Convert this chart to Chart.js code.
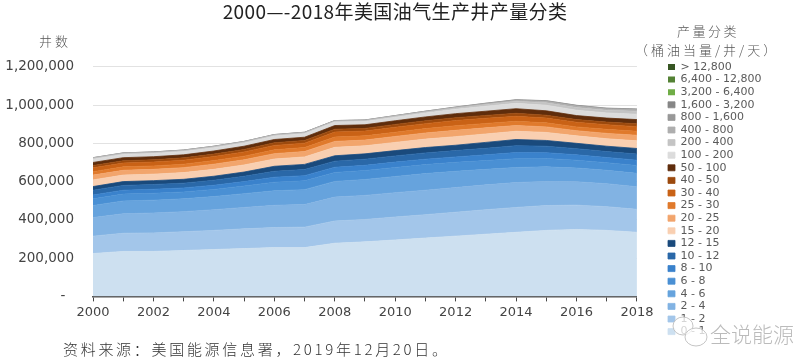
<!DOCTYPE html>
<html><head><meta charset="utf-8">
<style>html,body{margin:0;padding:0;background:#fff}#w{width:800px;height:363px;position:relative}canvas{filter:blur(.45px)}</style>
<script src="https://cdn.jsdelivr.net/npm/chart.js@4/dist/chart.umd.min.js"></script>
</head><body><div id="w"><canvas id="c" width="800" height="363"></canvas></div>
<script>
// wells, in thousands
const years=[2000,2001,2002,2003,2004,2005,2006,2007,2008,2009,2010,2011,2012,2013,2014,2015,2016,2017,2018];
const yTicks=[0,200,400,600,800,1000,1200];
const b0_1=[224,235,235,240,245,250,255,255,278,285,295,305,315,325,335,345,350,345,335];
const b1_2=[91,95,97,98,100,103,105,107,116,117,120,122,125,128,130,130,127,124,120];
const b2_4=[97,102,104,105,108,112,116,118,125,126,127,128,129,130,130,126,122,120,118];
const b4_6=[63,67,67,67,69,72,76,78,82,83,85,87,85,81,79,76,72,70,70];
const b6_8=[35,36,36,36,37,40,45,46,47,47,47,47,47,46,46,44,41,40,41];
const b8_10=[20,20,21,21,22,23,26,27,27,27,28,28,28,30,32,30,28,27,28];
const b10_12=[25,25,25,25,26,28,31,32,32,32,32,33,33,34,36,34,32,31,32];
const b12_15=[19,20,20,20,21,22,26,27,28,28,28,28,28,31,32,30,28,28,29];
const b15_20=[35,34,34,35,36,37,38,39,44,42,43,44,45,44,43,42,39,39,40];
const b20_25=[25,25,25,26,27,27,28,28,31,30,31,32,33,32,30,29,27,28,29];
const b25_30=[18,18,18,18,19,19,20,21,23,22,22,23,24,23,22,21,20,21,21];
const b30_40=[20,20,20,21,21,22,23,23,26,25,26,26,27,27,26,25,24,24,24];
const b40_50=[12,12,12,12,13,13,14,14,15,14,15,15,15,15,16,15,14,14,15];
const b50_100=[16,16,16,16,16,17,17,17,19,19,19,20,21,22,24,23,21,21,22];
const b100_200=[17,17,17,17,17,17,18,18,18,17,18,20,23,26,28,29,28,27,28];
const b200_400=[5,5,5,5,5,5,5,5,5,5,6,6,7,9,11,13,14,14,16];
const b400_800=[2,2,2,2,2,2,2,2,2,2,2,3,3,4,5,7,8,7,7];
const b800_1600=[1,1,1,1,1,1,1,1,1,1,1,1,1,2,2,3,3,3,3];
const b1600_3200=[0,0,0,0,0,0,0,0,0,0,0,0,1,1,1,1,1,1,2];
const b3200_6400=[0,0,0,0,0,0,0,0,0,0,0,0,0,0,0,0,0,0,0];
const b6400_12800=[0,0,0,0,0,0,0,0,0,0,0,0,0,0,0,0,0,0,0];
const bOver12800=[0,0,0,0,0,0,0,0,0,0,0,0,0,0,0,0,0,0,0];
const labels=['0 - 1','1 - 2','2 - 4','4 - 6','6 - 8','8 - 10','10 - 12','12 - 15','15 - 20','20 - 25','25 - 30','30 - 40','40 - 50','50 - 100','100 - 200','200 - 400','400 - 800','800 - 1,600','1,600 - 3,200','3,200 - 6,400','6,400 - 12,800','> 12,800'];
const series=[b0_1,b1_2,b2_4,b4_6,b6_8,b8_10,b10_12,b12_15,b15_20,b20_25,b25_30,b30_40,b40_50,b50_100,b100_200,b200_400,b400_800,b800_1600,b1600_3200,b3200_6400,b6400_12800,bOver12800];
const colors=['#cde0f0','#a3c6ea','#82b3e3','#66a3dd','#4a90d4','#3a82cc','#2a68a8','#1a4a7c','#f9cfb1','#f2a56c','#e07a2c','#c96216','#9c4a0e','#5f2d0c','#dcdcdc','#c4c4c4','#aeaeae','#989898','#868686','#70ad47','#548235','#375623'];
const txt='#444';
const CJK='"Noto Sans CJK SC"';
function spaced(ctx,s,x,y,sp){ctx.letterSpacing=sp+'px';ctx.fillText(s,x,y);ctx.letterSpacing='0px';}
const place={id:'place',afterLayout(ch){
  const l=ch.legend;const h=l.height,w=l.width;
  l.left=666.4;l.right=l.left+w;l.top=59.9;l.bottom=l.top+h;
  const t=ch.titleBlock;t.left=0;t.right=790;
  if(!t._sp){t._sp=true;const d=t.draw;t.draw=function(){ch.ctx.letterSpacing='0.4px';d.call(this);ch.ctx.letterSpacing='0px';};}
}};
const notes={id:'notes',afterDraw(ch){
  const c=ch.ctx;c.save();c.textBaseline='middle';c.fillStyle='#555';
  c.textAlign='left';
  c.font='300 13px '+CJK;spaced(c,'井数',39,41,3);
  c.font='300 13px '+CJK;spaced(c,'产量分类',677,31,2.5);
  c.font='300 13px '+CJK;spaced(c,'（桶油当量/井/天）',635,50,3);
  c.fillStyle='#333';c.font='300 15px '+CJK;spaced(c,'资料来源：美国能源信息署，2019年12月20日。',63,349,2.7);
  c.strokeStyle='#c4c4c4';c.lineWidth=1;c.fillStyle='rgba(255,255,255,.75)';
  c.beginPath();c.ellipse(683,326,10,9,0,0,7);c.fill();c.stroke();
  c.beginPath();c.ellipse(696,337,11,9,0,0,7);c.fill();c.stroke();
  c.fillStyle='#bbb';c.font='300 21px '+CJK;spaced(c,'全说能源',710,334,0);
  c.restore();
}};
new Chart(document.getElementById('c'),{type:'line',
 data:{labels:years,datasets:series.map((d,i)=>({label:labels[i],data:d,backgroundColor:colors[i],borderColor:colors[i],borderWidth:d.some(v=>v>0)?0.8:0,pointRadius:0,tension:0,fill:i===0?'origin':'-1'}))},
 plugins:[place,notes],
 options:{responsive:false,animation:false,
  layout:{padding:{left:0,right:58,top:0,bottom:40}},
  plugins:{
   title:{display:true,text:'2000—-2018年美国油气生产井产量分类',color:'#222',font:{family:CJK,size:19,weight:'400',lineHeight:1.2},padding:{top:0,bottom:44}},
   legend:{position:'right',align:'start',reverse:true,labels:{boxWidth:7,boxHeight:6,padding:1.6,color:'#5a5a5a',font:{family:'"DejaVu Sans"',size:11}}},
   tooltip:{enabled:false}},
  scales:{
   x:{stacked:true,grid:{drawOnChartArea:false,color:'#444',tickLength:5,tickWidth:1},border:{color:'#555',width:1.5},
      ticks:{autoSkip:false,maxRotation:0,padding:3,color:txt,font:{family:'"DejaVu Sans"',size:13},callback(v,i){return i%2?'':years[i];}}},
   y:{stacked:true,min:0,max:1200,afterFit(s){s.width=93;},
      afterBuildTicks(s){s.ticks=yTicks.map(v=>({value:v}));},
      grid:{color:'#e2e2e2',drawTicks:false,lineWidth:1},border:{display:false},
      ticks:{padding:19,color:txt,font:{family:'"DejaVu Sans"',size:13.5},callback(v){return v===0?'-  ':(v*1000).toLocaleString('en-US');}}}
  }}});
</script></body></html>
